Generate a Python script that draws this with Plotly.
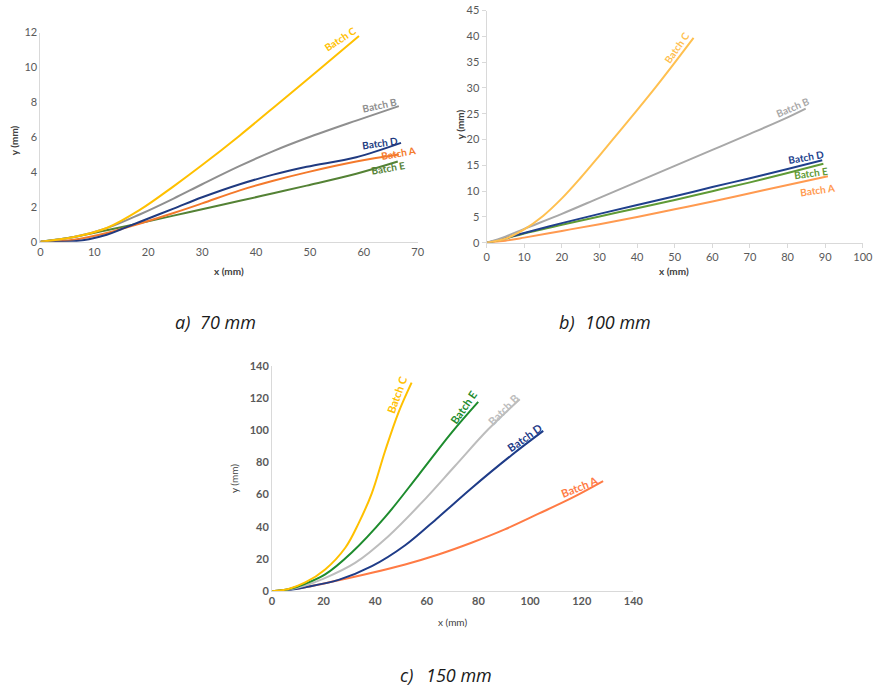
import plotly.graph_objects as go

# ---------------- Panel a) 70 mm ----------------
a_C_x = [0, 6.2, 12.3, 18.5, 24.7, 30, 37, 45, 52, 59.1]
a_C_y = [0, 0.27, 0.79, 1.84, 3.18, 4.4, 6.1, 8.15, 9.95, 11.8]
a_B_x = [0, 6.2, 12.3, 18.5, 24.7, 30, 37, 43.2, 49.4, 58.6, 66.5]
a_B_y = [0, 0.27, 0.78, 1.58, 2.48, 3.3, 4.35, 5.2, 5.95, 6.95, 7.78]
a_D_x = [0, 3, 6.2, 9, 12.3, 15, 18.5, 24.7, 30, 37, 43.2, 49.4, 58.6, 66.9]
a_D_y = [0, 0, 0.03, 0.15, 0.4, 0.72, 1.15, 1.9, 2.55, 3.3, 3.85, 4.3, 4.85, 5.67]
a_A_x = [0, 6.2, 12.3, 18.5, 24.7, 30, 37, 43.2, 49.4, 58.6, 66.5]
a_A_y = [0, 0.11, 0.5, 1.05, 1.65, 2.2, 2.95, 3.5, 3.98, 4.6, 5.0]
a_E_x = [0, 6.2, 12.3, 18.5, 24.7, 30, 37, 43.2, 49.4, 58.6, 66.3]
a_E_y = [0, 0.27, 0.66, 1.07, 1.5, 1.87, 2.35, 2.78, 3.22, 3.9, 4.6]

# ---------------- Panel b) 100 mm ----------------
b_C_x = [0, 5, 10, 15, 20, 25, 30, 35, 40, 45, 50, 55]
b_C_y = [0, 0.8, 2.6, 5.2, 8.6, 12.6, 16.9, 21.3, 25.7, 30.2, 34.9, 39.7]
b_B_x = [0, 5, 10, 20, 30, 40, 50, 60, 70, 80, 84.8]
b_B_y = [0, 1.2, 2.7, 5.6, 8.7, 11.8, 14.9, 18.0, 21.1, 24.3, 26.0]
b_D_x = [0, 5, 10, 20, 30, 40, 50, 60, 70, 80, 89.2]
b_D_y = [0, 0.9, 1.9, 3.8, 5.6, 7.3, 9.0, 10.8, 12.5, 14.3, 16.0]
b_E_x = [0, 5, 10, 20, 30, 40, 50, 60, 70, 80, 89.5]
b_E_y = [0, 0.8, 1.8, 3.5, 5.1, 6.7, 8.3, 10.0, 11.7, 13.5, 15.3]
b_A_x = [0, 5, 10, 20, 30, 40, 50, 60, 70, 80, 90.7]
b_A_y = [0, 0.4, 1.0, 2.3, 3.6, 5.0, 6.5, 8.0, 9.6, 11.2, 12.9]

# ---------------- Panel c) 150 mm ----------------
c_C_x = [0, 6.4, 12.9, 20.6, 28.4, 33.5, 38.7, 43.8, 49.0, 54.1]
c_C_y = [0, 1.4, 5.4, 13.5, 27, 42, 61, 87, 111, 129.6]
c_E_x = [0, 6.4, 12.9, 20.6, 30.9, 43.8, 56.7, 69.6, 79.9]
c_E_y = [0, 1.2, 4.6, 10.4, 24.0, 46.0, 72.0, 98.5, 117.6]
c_B_x = [0, 6.4, 12.9, 19.3, 32.2, 45.1, 58.0, 70.9, 83.8, 96.0]
c_B_y = [0, 1.0, 3.5, 7.3, 17.6, 34.2, 55.0, 77.8, 100.6, 119.3]
c_D_x = [0, 6.4, 12.9, 25.8, 38.7, 51.6, 64.5, 77.3, 92.8, 105.1]
c_D_y = [0, 0.8, 2.5, 7.0, 15.5, 28.5, 46.0, 64.0, 84.5, 99.6]
c_A_x = [0, 12.9, 25.8, 38.7, 51.6, 64.5, 77.3, 90.2, 103.1, 116.0, 128.3]
c_A_y = [0, 2.5, 6.8, 11.4, 16.6, 22.8, 30.1, 38.4, 48.0, 57.8, 68.4]

captions = ["a)", "70 mm", "b)", "100 mm", "c)", "150 mm"]

FONT = "Lato, 'Open Sans', sans-serif"
W, H = 875, 689

# map a target pixel position to the page position that lands there
def PX(r):
    return (r - 2.5) / 0.987

def PY(r):
    return (r - 7.5) / 0.98

def dx(a, b):
    return [PX(a) / W, PX(b) / W]

def dy(top, bottom):
    return [1 - PY(bottom) / H, 1 - PY(top) / H]

fig = go.Figure()

def add(x, y, color, xa, ya, width=2):
    fig.add_trace(go.Scatter(x=x, y=y, mode="lines",
                             line=dict(color=color, width=width, shape="spline", smoothing=1.0),
                             xaxis=xa, yaxis=ya, showlegend=False, hoverinfo="skip"))

# panel a colours
add(a_E_x, a_E_y, "#548235", "x", "y")
add(a_A_x, a_A_y, "#F4792B", "x", "y")
add(a_D_x, a_D_y, "#203A80", "x", "y")
add(a_B_x, a_B_y, "#8F8F8F", "x", "y")
add(a_C_x, a_C_y, "#FFC000", "x", "y")
# panel b
add(b_A_x, b_A_y, "#FF9A50", "x2", "y2")
add(b_E_x, b_E_y, "#5F9A35", "x2", "y2")
add(b_D_x, b_D_y, "#20408C", "x2", "y2")
add(b_B_x, b_B_y, "#A8A8A8", "x2", "y2")
add(b_C_x, b_C_y, "#FFC050", "x2", "y2")
# panel c
add(c_A_x, c_A_y, "#FF7B45", "x3", "y3")
add(c_D_x, c_D_y, "#1F3C88", "x3", "y3")
add(c_B_x, c_B_y, "#BDBDBD", "x3", "y3")
add(c_E_x, c_E_y, "#1E8C2E", "x3", "y3")
add(c_C_x, c_C_y, "#FFC000", "x3", "y3")

axcommon = dict(showgrid=False, zeroline=False, showline=True, linecolor="#D9D9D9", linewidth=1,
                tickfont=dict(family=FONT, size=11, color="#595959"))
boldtick = dict(family=FONT, size=11, color="#595959", weight="bold")

fig.update_layout(
    width=W, height=H, margin=dict(l=0, r=0, t=0, b=0),
    paper_bgcolor="white", plot_bgcolor="white",
    xaxis=dict(domain=dx(40, 418), range=[0, 70], dtick=10, anchor="y", **axcommon),
    yaxis=dict(domain=dy(33, 242), range=[0, 12], dtick=2, anchor="x", **axcommon),
    xaxis2=dict(domain=dx(487, 864), range=[0, 100], dtick=10, anchor="y2",
                ticks="outside", ticklen=4, tickcolor="#D9D9D9", **axcommon),
    yaxis2=dict(domain=dy(11, 243), range=[0, 45], dtick=5, anchor="x2",
                ticks="outside", ticklen=4, tickcolor="#D9D9D9", **axcommon),
    xaxis3=dict(domain=dx(272, 634), range=[0, 140], dtick=20, anchor="y3",
                **{**axcommon, "tickfont": boldtick}),
    yaxis3=dict(domain=dy(366, 591), range=[0, 140], dtick=20, anchor="x3",
                **{**axcommon, "tickfont": boldtick}),
)

ann = []
def lab(text, x, y, color, angle, xr, yr, size=10):
    ann.append(dict(text="<b>%s</b>" % text, x=x, y=y, xref=xr, yref=yr, showarrow=False,
                    textangle=angle, font=dict(family=FONT, size=size, color=color)))

# series labels panel a
lab("Batch C", 55.6, 11.6, "#FFC000", -33, "x", "y")
lab("Batch B", 63.0, 7.87, "#8F8F8F", -12, "x", "y")
lab("Batch D", 63.0, 5.69, "#203A80", -8, "x", "y")
lab("Batch A", 66.5, 5.11, "#F4792B", -10, "x", "y")
lab("Batch E", 64.4, 4.25, "#548235", -10, "x", "y")
# panel b
lab("Batch C", 50.4, 37.8, "#FFC050", -55, "x2", "y2")
lab("Batch B", 81.4, 26.4, "#A8A8A8", -23, "x2", "y2")
lab("Batch D", 84.9, 16.7, "#20408C", -10, "x2", "y2")
lab("Batch E", 86.2, 13.5, "#5F9A35", -8, "x2", "y2")
lab("Batch A", 88.0, 10.3, "#FF9A50", -8, "x2", "y2")
# panel c
lab("Batch C", 48.3, 122.4, "#FFC000", -70, "x3", "y3", 11)
lab("Batch E", 74.1, 114.1, "#1E8C2E", -55, "x3", "y3", 11)
lab("Batch B", 89.6, 113.1, "#BDBDBD", -45, "x3", "y3", 11)
lab("Batch D", 97.9, 95.4, "#1F3C88", -35, "x3", "y3", 11)
lab("Batch A", 119.2, 65.3, "#FF7B45", -22, "x3", "y3", 11)

def ptext(text, px, py, size=10, color="#404040", angle=0, bold=True):
    ann.append(dict(text=("<b>%s</b>" % text) if bold else text, x=PX(px)/W, y=1-PY(py)/H,
                    xref="paper", yref="paper",
                    showarrow=False, textangle=angle, xanchor="center", yanchor="middle",
                    font=dict(family=FONT, size=size, color=color)))

# axis titles
ptext("x (mm)", 229, 271)
ptext("y (mm)", 13, 140, angle=-90)
ptext("x (mm)", 675, 271)
ptext("y (mm)", 460, 125, angle=-90)
ptext("x (mm)", 453, 622, size=10, bold=False)
ptext("y (mm)", 234, 479, size=10, angle=-90, bold=False)

def cap(text, px, py):
    ann.append(dict(text="<i>%s</i>" % text, x=PX(px)/W, y=1-PY(py)/H, xref="paper", yref="paper",
                    showarrow=False, xanchor="left", yanchor="middle",
                    font=dict(family="'Open Sans', Lato, sans-serif", size=18, color="#1a1a1a")))

cap(captions[0], 173, 322)
cap(captions[1], 198, 322)
cap(captions[2], 558, 322)
cap(captions[3], 584, 322)
cap(captions[4], 398, 675)
cap(captions[5], 424, 675)

fig.update_layout(annotations=ann)
fig.write_html("out.html",
               config={"displayModeBar": False},
               post_script="document.body.style.margin='0';document.body.style.padding='0';"
                           "document.documentElement.style.overflow='hidden';"
                           "document.body.style.overflow='hidden';")
